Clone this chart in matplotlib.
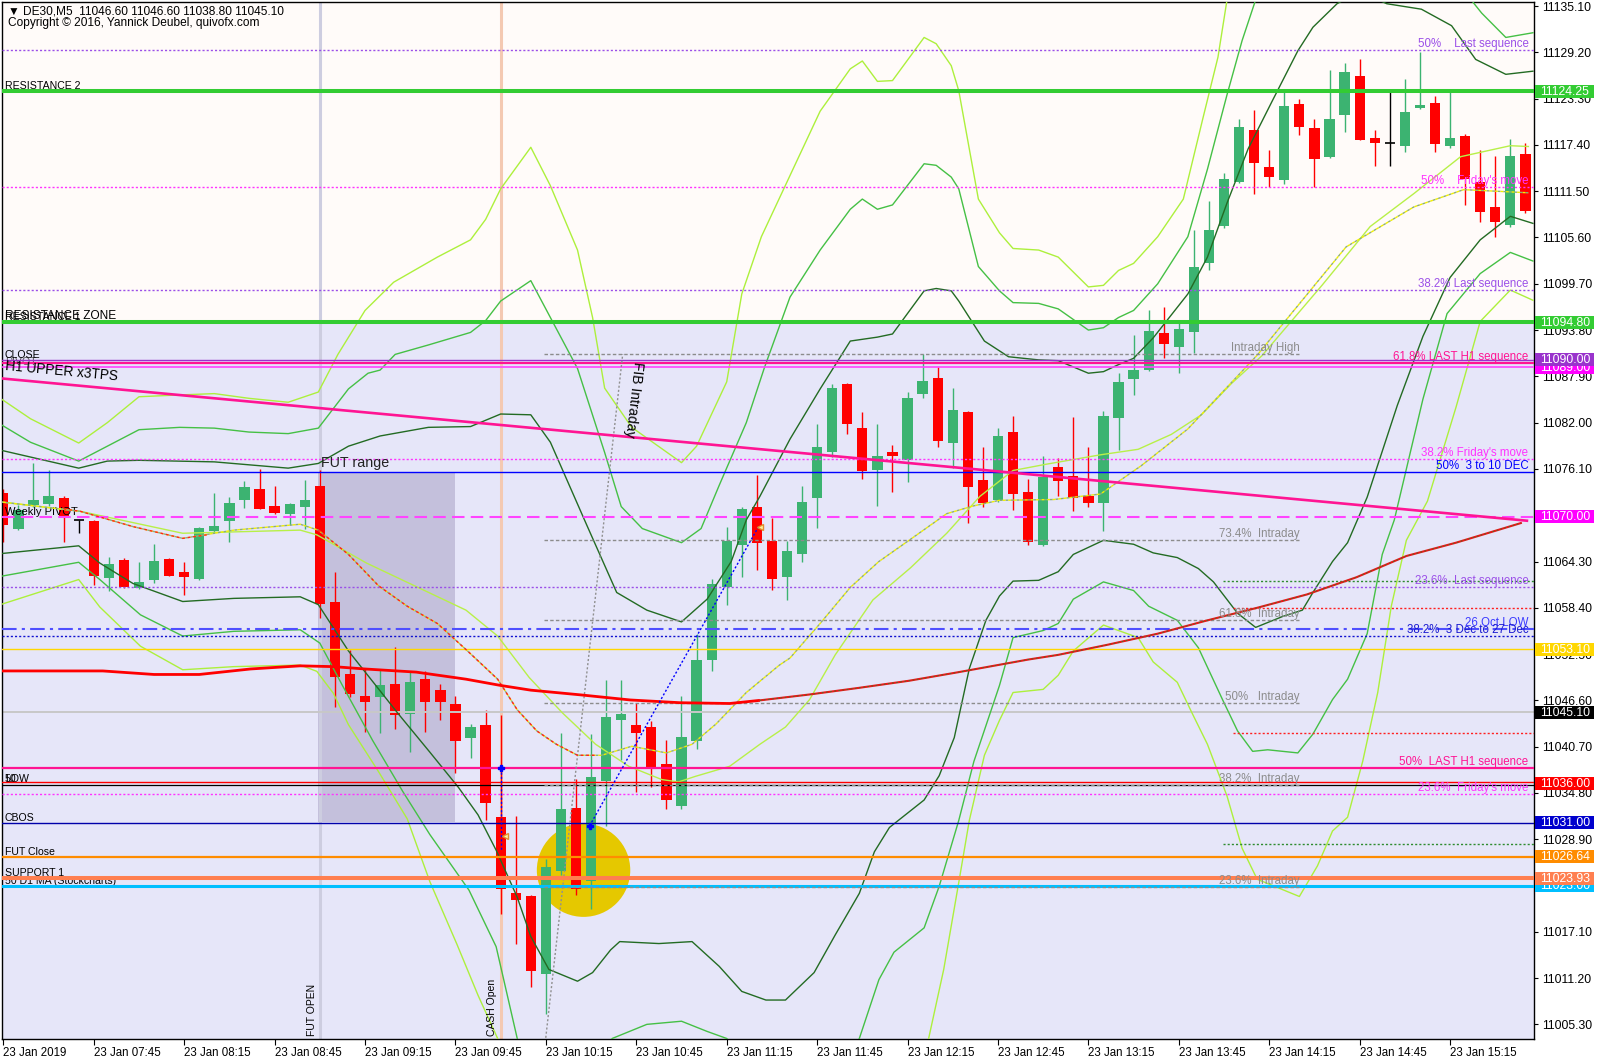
import numpy as np
import matplotlib.pyplot as plt
from matplotlib.patches import Rectangle, Ellipse
from matplotlib.transforms import blended_transform_factory

plt.rcParams['font.family'] = ['Liberation Sans', 'DejaVu Sans']

# DE30 M5 candles, 23 Jan 2019, first bar 07:15
opens = [11073.0, 11068.5, 11071.5, 11071.6, 11072.4, 11069.6, 11069.5, 11062.25, 11064.5, 11060.9,
         11061.9, 11064.6, 11062.9, 11062.1, 11068.2, 11069.5, 11072.1, 11073.5, 11071.4, 11070.4,
         11071.3, 11073.9, 11059.1, 11050.0, 11047.1, 11047.05, 11048.7, 11044.85, 11049.35, 11047.9,
         11046.1, 11041.85, 11043.5, 11031.7, 11022.0, 11021.6, 11011.7, 11024.9, 11032.9, 11023.6,
         11036.3, 11044.05, 11043.5, 11043.25, 11038.5, 11033.1, 11041.4, 11051.75, 11061.1, 11066.4,
         11071.2, 11066.96, 11062.3, 11065.3, 11072.4, 11078.2, 11086.9, 11081.3, 11076.0, 11078.3,
         11077.2, 11085.7, 11087.65, 11079.4, 11083.4, 11074.7, 11072.1, 11080.85, 11073.1, 11066.4,
         11076.4, 11075.2, 11072.7, 11071.8, 11082.6, 11087.6, 11088.7, 11093.4, 11091.7, 11093.5,
         11102.3, 11107.1, 11112.7, 11119.3, 11114.55, 11112.9, 11122.6, 11119.5, 11115.8, 11121.2,
         11126.2, 11118.3, 11117.6, 11117.2, 11122.1, 11122.8, 11117.2, 11118.6, 11112.7, 11109.5,
         11107.2, 11116.25]
highs = [11073.6, 11071.5, 11076.8, 11076.0, 11072.6, 11069.6, 11069.6, 11064.9, 11064.7, 11064.2,
         11066.5, 11064.7, 11064.2, 11068.7, 11073.0, 11072.5, 11074.5, 11076.05, 11073.9, 11071.8,
         11074.7, 11076.0, 11063.0, 11053.0, 11050.7, 11050.6, 11053.4, 11050.2, 11050.4, 11048.7,
         11047.1, 11043.6, 11045.4, 11044.7, 11031.9, 11021.8, 11026.4, 11042.5, 11036.6, 11042.3,
         11049.2, 11049.2, 11046.2, 11044.0, 11041.5, 11047.2, 11055.0, 11062.1, 11068.7, 11071.3,
         11075.3, 11069.9, 11066.9, 11073.9, 11081.8, 11086.9, 11087.0, 11083.4, 11081.8, 11079.2,
         11085.9, 11090.8, 11089.1, 11086.4, 11083.5, 11078.9, 11081.3, 11082.9, 11074.8, 11077.8,
         11077.5, 11082.7, 11078.9, 11083.5, 11088.3, 11093.2, 11096.3, 11096.7, 11094.7, 11106.6,
         11110.2, 11113.8, 11120.7, 11121.9, 11116.7, 11124.2, 11123.2, 11120.7, 11127.0, 11127.8,
         11128.3, 11119.3, 11124.2, 11125.8, 11129.3, 11123.6, 11124.3, 11118.8, 11116.8, 11116.0,
         11118.1, 11117.6]
lows = [11066.8, 11068.3, 11071.3, 11071.4, 11066.8, 11067.9, 11061.3, 11060.5, 11060.9, 11060.8,
        11061.6, 11062.4, 11060.0, 11062.0, 11067.9, 11066.8, 11071.1, 11071.0, 11070.4, 11069.0,
        11068.5, 11057.1, 11045.8, 11047.0, 11042.6, 11042.4, 11042.9, 11040.0, 11042.6, 11044.05,
        11037.4, 11039.2, 11031.3, 11019.4, 11015.5, 11010.1, 11006.6, 11024.4, 11021.8, 11020.0,
        11030.6, 11039.0, 11034.9, 11035.5, 11032.8, 11032.8, 11040.4, 11050.4, 11058.8, 11062.3,
        11063.2, 11060.7, 11059.4, 11064.2, 11068.6, 11077.6, 11080.6, 11074.8, 11071.4, 11073.1,
        11074.4, 11085.2, 11078.9, 11076.2, 11069.2, 11071.3, 11071.9, 11070.9, 11066.4, 11066.3,
        11072.6, 11070.8, 11071.3, 11068.2, 11078.5, 11085.5, 11088.6, 11090.3, 11088.3, 11090.9,
        11101.5, 11106.8, 11112.5, 11111.2, 11112.1, 11112.4, 11118.7, 11112.1, 11115.7, 11119.0,
        11118.0, 11114.7, 11114.7, 11116.5, 11122.0, 11116.5, 11117.0, 11109.75, 11107.6, 11105.7,
        11107.0, 11108.7]
closes = [11069.0, 11070.9, 11072.1, 11072.6, 11069.9, 11069.6, 11062.5, 11063.95, 11061.0, 11061.65,
          11064.4, 11062.5, 11062.3, 11068.6, 11068.8, 11071.8, 11073.85, 11071.0, 11070.5, 11071.6,
          11072.1, 11058.9, 11049.55, 11047.35, 11046.4, 11048.5, 11044.7, 11048.9, 11046.4, 11046.4,
          11041.4, 11043.2, 11033.5, 11022.5, 11021.15, 11012.1, 11025.3, 11032.8, 11022.5, 11036.8,
          11044.5, 11044.9, 11042.4, 11038.1, 11033.9, 11041.9, 11051.75, 11061.45, 11066.96, 11071.0,
          11066.6, 11062.1, 11065.7, 11071.85, 11078.9, 11086.4, 11081.8, 11075.8, 11077.8, 11077.8,
          11085.2, 11087.3, 11079.6, 11083.6, 11073.8, 11071.8, 11080.3, 11072.9, 11066.8, 11075.1,
          11074.6, 11072.4, 11071.7, 11082.9, 11087.2, 11088.7, 11093.7, 11092.0, 11093.9, 11101.9,
          11106.6, 11113.0, 11119.7, 11115.1, 11113.3, 11122.3, 11119.7, 11115.6, 11120.7, 11126.7,
          11118.0, 11117.7, 11117.6, 11121.6, 11122.5, 11117.5, 11118.3, 11113.0, 11108.8, 11107.6,
          11116.0, 11109.0]

# indicator traces (bar index, price)
inner_up_x = [-0.2, 5.0, 6.9, 9.0, 14.0, 18.9, 20.9, 22.9, 25.0, 28.2, 31.0, 33.0, 35.0, 36.3, 38.7, 40.7,
              42.7, 45.0, 46.7, 48.3, 49.3, 50.2, 52.2, 54.2, 56.2, 58.0, 59.0, 61.1, 61.9, 62.9, 63.4,
              65.1, 66.7, 68.7, 70.0, 72.0, 73.0, 74.0, 75.0, 76.3, 78.6, 79.9, 81.2, 82.6, 84.2, 85.9,
              86.9, 88.5, 90.0, 91.8, 94.1, 96.1, 97.7, 99.7, 101.5]
inner_up_y = [11078.5, 11076.2, 11077.1, 11077.2, 11077.0, 11076.2, 11076.8, 11079.0, 11080.3, 11081.4,
              11081.5, 11083.1, 11083.0, 11079.5, 11069.0, 11060.35, 11058.1, 11056.6, 11059.5, 11064.3,
              11069.6, 11072.6, 11079.9, 11086.3, 11092.4, 11092.9, 11093.3, 11098.8, 11099.1, 11098.8,
              11097.5, 11092.4, 11090.4, 11090.0, 11089.9, 11088.3, 11088.5, 11089.4, 11090.2, 11092.8,
              11098.4, 11103.1, 11110.0, 11116.9, 11123.0, 11129.4, 11132.4, 11135.4, 11137.0, 11135.4,
              11134.7, 11132.6, 11128.3, 11126.4, 11126.8]
mid_up_x = [-0.2, 1.8, 5.0, 6.9, 9.0, 11.7, 14.0, 16.3, 18.9, 20.9, 22.9, 24.2, 25.0, 26.0, 28.2, 31.0,
            32.0, 33.0, 35.0, 36.3, 38.1, 39.9, 41.0, 42.4, 45.0, 46.3, 47.5, 49.3, 50.5, 52.2, 54.2,
            56.2, 57.0, 58.0, 59.0, 61.1, 61.9, 62.9, 63.4, 64.7, 66.1, 67.0, 68.7, 70.0, 72.0, 73.0,
            74.0, 75.0, 76.6, 78.6, 79.9, 81.2, 82.2, 83.1, 90.0, 97.0, 97.6, 98.1, 99.7, 101.5]
mid_up_y = [11081.8, 11079.5, 11077.1, 11079.0, 11081.1, 11081.4, 11081.3, 11080.8, 11080.6, 11081.3,
            11086.3, 11088.3, 11088.7, 11090.7, 11091.9, 11093.5, 11095.0, 11097.5, 11100.1, 11095.4,
            11088.9, 11078.2, 11071.3, 11068.5, 11066.7, 11068.5, 11074.0, 11082.0, 11089.0, 11098.0,
            11104.0, 11109.2, 11110.5, 11109.2, 11109.75, 11115.0, 11114.8, 11113.3, 11111.8, 11101.9,
            11098.8, 11097.3, 11097.2, 11096.5, 11093.8, 11094.1, 11095.4, 11096.3, 11099.7, 11105.7,
            11114.3, 11123.8, 11130.7, 11135.9, 11145.0, 11137.0, 11135.4, 11134.2, 11131.1, 11131.7]
outer_up_x = [-0.2, 1.8, 5.0, 6.9, 9.0, 11.3, 14.0, 16.3, 18.9, 20.9, 22.2, 24.0, 25.9, 28.8, 31.0, 32.0,
              33.0, 35.0, 36.3, 38.1, 39.1, 39.9, 41.7, 45.0, 46.0, 48.0, 49.0, 50.3, 52.2, 54.2, 56.2,
              57.0, 58.0, 59.0, 61.1, 61.9, 62.9, 63.4, 64.7, 66.1, 67.0, 68.7, 70.0, 72.0, 73.0, 74.0,
              75.0, 76.6, 78.3, 79.6, 80.6, 81.2, 82.0, 90.0, 101.5]
outer_up_y = [11085.1, 11082.5, 11079.4, 11082.0, 11085.3, 11085.5, 11085.7, 11085.1, 11084.6, 11085.9,
              11090.7, 11096.3, 11099.9, 11103.1, 11105.3, 11107.9, 11111.8, 11117.1, 11112.2, 11104.0,
              11095.4, 11086.4, 11081.4, 11076.9, 11079.0, 11087.2, 11098.4, 11105.7, 11113.5, 11121.7,
              11127.1, 11128.1, 11125.5, 11125.6, 11131.1, 11130.3, 11127.5, 11124.3, 11110.5, 11106.2,
              11104.2, 11104.0, 11103.1, 11099.3, 11099.5, 11101.4, 11102.3, 11105.7, 11110.5, 11120.8,
              11128.6, 11135.9, 11142.0, 11160.0, 11150.0]
inner_lo_x = [-0.2, 5.0, 6.4, 8.6, 11.9, 15.3, 19.7, 20.9, 22.9, 26.2, 28.3, 30.2, 31.5, 32.7, 34.1, 35.0,
              36.2, 38.1, 39.1, 40.3, 40.9, 43.5, 45.7, 47.5, 49.0, 50.6, 51.9, 53.8, 55.2, 56.8, 57.8,
              58.8, 61.1, 62.1, 63.1, 64.1, 65.2, 66.1, 67.0, 68.7, 70.0, 71.0, 73.0, 75.0, 76.3, 77.9,
              79.3, 80.3, 81.9, 83.1, 84.9, 86.2, 86.9, 88.2, 89.2, 90.5, 92.5, 94.2, 96.0, 98.0, 100.0,
              101.5]
inner_lo_y = [11065.3, 11066.3, 11064.1, 11061.5, 11059.2, 11059.6, 11059.8, 11058.8, 11052.9, 11044.9,
              11040.0, 11035.5, 11032.0, 11027.5, 11021.5, 11016.5, 11012.3, 11010.8, 11011.9, 11014.8,
              11015.85, 11015.6, 11015.85, 11012.7, 11009.5, 11008.4, 11008.4, 11011.9, 11016.7, 11022.0,
              11027.3, 11030.4, 11033.9, 11037.0, 11041.85, 11050.66, 11056.8, 11059.9, 11061.8, 11061.9,
              11063.0, 11065.2, 11067.0, 11066.5, 11065.4, 11064.8, 11063.4, 11061.7, 11057.7, 11055.9,
              11057.3, 11058.1, 11060.35, 11064.3, 11066.7, 11072.5, 11084.2, 11093.0, 11100.5, 11105.3,
              11108.3, 11107.4]
mid_lo_x = [-0.2, 5.0, 6.4, 9.1, 11.9, 15.3, 19.7, 21.0, 22.5, 24.5, 26.5, 28.3, 30.9, 32.7, 34.1, 35.5,
            39.5, 40.4, 42.7, 45.0, 46.7, 48.0, 50.0, 53.0, 55.5, 56.8, 58.1, 59.1, 61.1, 62.1, 63.4,
            64.4, 66.1, 67.0, 69.0, 70.0, 71.0, 73.0, 75.0, 76.0, 77.9, 79.3, 80.9, 81.9, 82.9, 83.9,
            85.9, 86.9, 88.2, 89.2, 90.5, 91.5, 92.3, 94.2, 95.8, 98.0, 100.0, 101.5]
mid_lo_y = [11062.4, 11064.2, 11062.0, 11057.5, 11054.8, 11055.4, 11055.6, 11053.9, 11048.5, 11041.5,
            11035.0, 11029.5, 11022.4, 11015.2, 11003.5, 10997.0, 11000.0, 11003.5, 11005.3, 11005.7,
            11004.4, 11003.5, 10999.0, 10996.0, 10999.0, 11003.5, 11011.0, 11014.5, 11017.6, 11022.9,
            11031.3, 11038.8, 11048.5, 11054.6, 11055.5, 11056.4, 11059.5, 11061.7, 11060.6, 11058.6,
            11056.8, 11053.3, 11046.7, 11042.7, 11040.1, 11040.3, 11039.9, 11042.3, 11046.7, 11049.3,
            11055.1, 11065.2, 11069.6, 11085.0, 11095.9, 11101.0, 11103.7, 11102.6]
outer_lo_x = [-0.2, 5.0, 6.4, 9.1, 11.9, 15.3, 19.7, 20.8, 21.9, 22.9, 24.9, 26.8, 28.3, 30.1, 31.5, 32.8,
              34.0, 48.0, 60.0, 61.4, 62.4, 63.4, 64.1, 65.1, 66.1, 67.0, 69.0, 70.0, 71.0, 73.0, 74.0,
              75.3, 76.3, 77.9, 78.9, 79.9, 81.2, 82.2, 83.2, 86.0, 87.2, 88.2, 89.2, 90.2, 91.2, 92.1,
              93.1, 94.5, 96.4, 98.0, 100.0, 101.5]
outer_lo_y = [11058.8, 11062.0, 11058.5, 11053.5, 11050.5, 11050.9, 11051.1, 11050.3, 11047.5, 11043.5,
              11037.5, 11031.5, 11023.5, 11015.5, 11009.0, 11003.5, 10996.0, 10990.0, 10995.0, 11003.5,
              11012.3, 11023.4, 11031.3, 11039.6, 11044.05, 11047.6, 11048.0, 11049.8, 11052.9, 11056.2,
              11055.5, 11054.6, 11051.5, 11048.9, 11044.9, 11041.0, 11034.4, 11027.75, 11023.8, 11021.6,
              11025.5, 11029.95, 11031.7, 11038.8, 11047.6, 11058.6, 11067.0, 11072.0, 11084.0, 11094.9,
              11098.9, 11097.6]
fast_ma_x = [-0.2, 5.1, 8.6, 11.9, 15.3, 19.7, 20.9, 22.9, 24.9, 26.8, 28.8, 30.8, 32.8, 34.1, 35.4, 36.7,
             38.1, 39.7, 41.7, 44.0, 45.7, 47.3, 49.3, 51.5, 52.2, 54.2, 56.2, 58.1, 60.1, 62.6, 64.4,
             66.1, 69.7, 72.8, 75.5, 78.6, 83.2, 89.1, 93.6, 96.9, 98.0, 101.2]
fast_ma_y = [11071.9, 11070.7, 11068.75, 11067.25, 11068.3, 11069.05, 11068.3, 11065.2, 11061.2, 11058.6,
             11056.4, 11052.9, 11049.3, 11045.4, 11042.7, 11041.0, 11039.6, 11039.6, 11040.75, 11039.9,
             11041.0, 11043.6, 11047.6, 11051.1, 11052.0, 11056.4, 11061.0, 11064.3, 11067.0, 11070.4,
             11071.4, 11072.1, 11072.2, 11072.9, 11076.5, 11081.2, 11090.6, 11104.4, 11109.5, 11111.7,
             11111.6, 11111.3]
fast_fall_x = [4.0, 5.1, 8.6, 11.9, 13.5]
fast_fall_y = [11071.0, 11070.7, 11068.75, 11067.25, 11067.7]
fast_fall2_x = [20.9, 22.9, 24.9, 26.8, 28.8, 30.8, 32.8, 34.1, 35.4, 36.7, 38.1, 39.3]
fast_fall2_y = [11068.3, 11065.2, 11061.2, 11058.6, 11056.4, 11052.9, 11049.3, 11045.4, 11042.7, 11041.0,
                11039.6, 11039.6]
slow_ma_x = [-0.2, 5.1, 11.9, 19.7, 20.8, 24.1, 27.4, 30.7, 32.8, 34.9, 37.1, 39.3, 41.5, 43.7, 44.8, 45.9,
             48.2, 50.2, 51.9, 53.5, 55.2, 57.7, 60.2, 62.6, 64.8, 67.0, 69.2, 72.8, 75.3, 77.5, 79.5,
             81.5, 83.5, 85.5, 87.5, 90.7, 93.6, 96.7, 100.0, 101.2]
slow_ma_y = [11071.9, 11070.7, 11067.9, 11068.3, 11067.7, 11064.1, 11061.1, 11058.1, 11054.8, 11049.5,
             11045.0, 11041.0, 11038.2, 11036.5, 11036.2, 11036.9, 11038.2, 11041.0, 11043.2, 11046.7,
             11052.4, 11059.4, 11063.5, 11067.9, 11072.6, 11075.9, 11076.7, 11077.9, 11078.6, 11080.5,
             11083.0, 11087.0, 11090.5, 11095.0, 11099.5, 11107.0, 11111.2, 11115.9, 11117.3, 11117.2]
red_ma_x = [-0.2, 6.6, 10.0, 13.0, 16.4, 19.7, 21.9, 24.0, 27.4, 30.7, 33.0, 35.0, 38.3, 41.6, 44.9, 48.2,
            50.2, 53.5, 56.8, 60.1, 63.4, 68.0, 70.0, 73.3, 76.6, 79.9, 83.2, 86.5, 89.8, 93.1, 96.4,
            100.7]
red_ma_y = [11050.35, 11050.35, 11049.9, 11049.9, 11050.6, 11051.0, 11050.9, 11050.6, 11050.2, 11049.3,
            11048.5, 11047.9, 11047.3, 11046.65, 11046.3, 11046.2, 11046.6, 11047.35, 11048.2, 11049.1,
            11050.2, 11051.8, 11052.4, 11053.7, 11055.1, 11056.8, 11058.4, 11060.1, 11062.3, 11065.0,
            11066.7, 11069.2]

# drawn objects
trend_x = [-0.2, 101.1]
trend_y = [11087.65, 11069.5]
fib_x = [35.9, 41.1]
fib_y = [11002.0, 11090.75]
fut_range = [20.9, 30.0, 11031.1, 11075.7]   # from bar, to bar, low, high
fut_open_bar = 21
cash_open_bar = 33
circle = [38.5, 11024.95]

# horizontal levels
res2 = 11124.25
res1 = 11094.80
last_seq = [11129.55, 11098.85, 11061.0]
last_seq_names = ['50%    Last sequence', '38.2% Last sequence', '23.6%  Last sequence']
friday = [11112.1, 11077.4, 11034.7]
friday_names = ["50%    Friday's move", "38.2% Friday's move", "23.6%  Friday's move"]
h1_seq = [11089.6, 11038.0]
h1_names = ['61.8% LAST H1 sequence', '50%  LAST H1 sequence']
prev_close = 11090.00
pivot_pink = 11089.15
dec_50 = 11075.7
weekly_pivot = 11070.00
oct_low = 11055.7
dec_382 = 11054.75
gold_lvl = 11053.10
bid = 11045.10
low_lvl = 11036.0
cbos = 11031.00
fut_close = 11026.64
support1 = 11023.93
d1_ma = 11023.00
intraday = [11090.75, 11067.1, 11056.8, 11046.25, 11035.8, 11022.8]
intraday_names = ['Intraday High', '73.4%  Intraday', '61.8%  Intraday', '50%   Intraday',
                  '38.2%  Intraday', '23.6%  Intraday']
short_green = [11061.8, 11028.3]
short_red = [11058.4, 11042.4]

box_prices = [11124.25, 11094.80, 11089.00, 11090.00, 11070.00, 11053.10, 11045.10, 11036.00,
              11031.00, 11026.64, 11023.00, 11023.93]
box_texts = ['11124.25', '11094.80', '11089.00', '11090.00', '11070.00', '11053.10', '11045.10',
             '11036.00', '11031.00', '11026.64', '11023.00', '11023.93']

price_ticks = [11135.10, 11129.20, 11123.30, 11117.40, 11111.50, 11105.60, 11099.70, 11093.80, 11087.90,
               11082.00, 11076.10, 11070.20, 11064.30, 11058.40, 11052.50, 11046.60, 11040.70, 11034.80,
               11028.90, 11023.00, 11017.10, 11011.20, 11005.30]
time_ticks = [0, 6, 12, 18, 24, 30, 36, 42, 48, 54, 60, 66, 72, 78, 84, 90, 96]
time_labels = ['23 Jan 2019', '23 Jan 07:45', '23 Jan 08:15', '23 Jan 08:45', '23 Jan 09:15',
               '23 Jan 09:45', '23 Jan 10:15', '23 Jan 10:45', '23 Jan 11:15', '23 Jan 11:45',
               '23 Jan 12:15', '23 Jan 12:45', '23 Jan 13:15', '23 Jan 13:45', '23 Jan 14:15',
               '23 Jan 14:45', '23 Jan 15:15']

# ------------------------------------------------------------------
fig = plt.figure(figsize=(16, 10.62), dpi=100)
fig.patch.set_facecolor('white')
ax = fig.add_axes([0.00125, 0.0217, 0.9575, 0.9765])
x_lo, x_hi = -0.09, 101.57
y_lo, y_hi = 11003.44, 11135.63
ax.set_xlim(x_lo, x_hi)
ax.set_ylim(y_lo, y_hi)
ax.set_facecolor('#fffbf9')
ax.axhspan(10980, res1, color='#e6e6f9', lw=0, zorder=0)

ax.add_patch(Rectangle((fut_range[0], fut_range[2]), fut_range[1] - fut_range[0],
                       fut_range[3] - fut_range[2], fc='#c4c0dc', ec='none', zorder=0.5))
ax.axvline(fut_open_bar, color='#cdcde0', lw=2.2, zorder=0.6)
ax.axvline(cash_open_bar, color='#f4c9b2', lw=2.2, zorder=0.6)
ax.add_patch(Ellipse((circle[0], circle[1]), 6.2, 11.9, fc='#e5c800', ec='none', zorder=1.5))

# candles
o = np.array(opens); h = np.array(highs); l = np.array(lows); c = np.array(closes)
x = np.arange(len(o))
up = c > o
dn = c < o
dj = c == o
bw = 0.68
ax.vlines(x[up], l[up], h[up], color='#3cb371', lw=1.0, zorder=2)
ax.vlines(x[dn], l[dn], h[dn], color='#ff0000', lw=1.0, zorder=2)
ax.bar(x[up], np.maximum((c - o)[up], 0.35), bottom=o[up], width=bw, color='#3cb371', lw=0, zorder=2.1)
ax.bar(x[dn], np.maximum((o - c)[dn], 0.35), bottom=c[dn], width=bw, color='#ff0000', lw=0, zorder=2.1)
ax.vlines(x[dj], l[dj], h[dj], color='black', lw=1.0, zorder=2.1)
ax.hlines(c[dj], x[dj] - bw / 2, x[dj] + bw / 2, color='black', lw=1.2, zorder=2.1)

# bands and averages
ax.plot(outer_up_x, outer_up_y, color='#adf03c', lw=1.0, zorder=3)
ax.plot(outer_lo_x, outer_lo_y, color='#adf03c', lw=1.0, zorder=3)
ax.plot(mid_up_x, mid_up_y, color='#45c045', lw=1.0, zorder=3)
ax.plot(mid_lo_x, mid_lo_y, color='#45c045', lw=1.0, zorder=3)
ax.plot(inner_up_x, inner_up_y, color='#236b23', lw=1.0, zorder=3)
ax.plot(inner_lo_x, inner_lo_y, color='#236b23', lw=1.0, zorder=3)
ax.plot(slow_ma_x, slow_ma_y, color='#b8f048', lw=1.0, zorder=3)
ax.plot(fast_ma_x, fast_ma_y, color='#8fae78', lw=1.0, ls=(0, (2, 2)), zorder=3)
ax.plot(fast_ma_x, fast_ma_y, color='#f0f000', lw=1.0, ls=(2, (2, 2)), zorder=3)
ax.plot(fast_fall_x, fast_fall_y, color='#ff2020', lw=1.0, ls=(0, (2, 2)), zorder=3.1)
ax.plot(fast_fall2_x, fast_fall2_y, color='#ff2020', lw=1.0, ls=(0, (2, 2)), zorder=3.1)
ax.plot(red_ma_x[:17], red_ma_y[:17], color='#ff0000', lw=2.0, zorder=3.2, solid_capstyle='butt')
ax.plot(red_ma_x[16:], red_ma_y[16:], color='#e81818', lw=1.5, zorder=3.2)
ax.plot(red_ma_x[16:], red_ma_y[16:], color='#3a7a2a', lw=0.6, ls=(0, (2, 3)), zorder=3.3)

# horizontal levels
dot = (0, (1.5, 1.5))
dash = (0, (2.5, 1.6))
ax.axhline(res2, color='#33cc33', lw=2.9, zorder=3.5)
ax.axhline(res1, color='#33cc33', lw=2.9, zorder=3.5)
for p in last_seq:
    ax.axhline(p, color='#9b4fe8', lw=1.0, ls=dot, zorder=3)
for p in friday:
    ax.axhline(p, color='#ff33ff', lw=1.0, ls=dot, zorder=3)
ax.axhline(prev_close, color='#9933cc', lw=1.0, zorder=3)
ax.axhline(h1_seq[0], color='#ff1493', lw=1.6, zorder=3)
ax.axhline(pivot_pink, color='#ff44ff', lw=1.2, zorder=3)
ax.axhline(h1_seq[1], color='#ff1493', lw=1.6, zorder=3)
ax.axhline(dec_50, color='#0000ff', lw=1.0, zorder=3)
ax.axhline(weekly_pivot, color='#ff44ff', lw=1.5, ls=(0, (6, 3)), zorder=3)
ax.axhline(oct_low, color='#4f4fff', lw=1.5, ls=(0, (7, 2.5, 1.5, 2.5)), zorder=3)
ax.axhline(dec_382, color='#1010d0', lw=1.0, ls=dot, zorder=3)
ax.axhline(gold_lvl, color='#ffd700', lw=1.0, zorder=3)
ax.axhline(bid, color='#c8c8c8', lw=1.4, zorder=2.5)
ax.axhline(low_lvl + 0.15, color='#ff0000', lw=1.0, zorder=3)
ax.axhline(low_lvl - 0.2, color='#000000', lw=0.9, zorder=3)
ax.axhline(cbos, color='#0000aa', lw=1.0, zorder=3)
ax.axhline(fut_close, color='#ff8c00', lw=1.6, zorder=3)
ax.axhline(d1_ma, color='#00bfff', lw=2.2, zorder=3)
ax.axhline(support1, color='#ff7f50', lw=2.9, zorder=3.1)
ax.hlines(intraday, fib_x[0], 86.0, color='#8c8c8c', lw=1.0, ls=dash, zorder=3)
ax.hlines(short_green, 80.9, x_hi, color='#2e8b2e', lw=1.0, ls=dot, zorder=3)
ax.hlines(short_red, 81.6, x_hi, color='#ff2020', lw=1.0, ls=dot, zorder=3)

ax.plot(trend_x, trend_y, color='#ff1493', lw=1.9, zorder=3.4)
ax.plot(fib_x, fib_y, color='#909090', lw=1.0, ls=dot, zorder=3)
ax.plot([cash_open_bar, cash_open_bar], [h1_seq[1], 11027.5], color='#0000ff', lw=1.0, ls=dot, zorder=3.5)
ax.plot([38.9, 50.1], [11030.6, 11068.7], color='#0000ff', lw=1.0, ls=dot, zorder=3.5)
ax.plot([cash_open_bar, 38.9], [h1_seq[1], 11030.6], ls='none', marker='P', ms=5, color='#0000ff', zorder=4)
ax.plot([cash_open_bar + 0.3, 50.2], [11029.3, 11068.7], ls='none', marker='<', ms=5, mfc='#fff3a0',
        mec='#e09030', zorder=4)

# labels on the right of the chart
rx = 101.2
for p, t in zip(last_seq, last_seq_names):
    ax.annotate(t, (rx, p), ha='right', va='bottom', fontsize=8.3, color='#9b4fe8', zorder=4)
for p, t in zip(friday, friday_names):
    ax.annotate(t, (rx, p), ha='right', va='bottom', fontsize=8.3, color='#ff33ff', zorder=4)
for p, t in zip(h1_seq, h1_names):
    ax.annotate(t, (rx, p), ha='right', va='bottom', fontsize=8.3, color='#ff1493', zorder=4)
ax.annotate('50%  3 to 10 DEC', (rx, dec_50), ha='right', va='bottom', fontsize=8.3, color='#0000ff', zorder=4)
ax.annotate('26 Oct LOW', (rx, oct_low), ha='right', va='bottom', fontsize=8.3, color='#3a3aff', zorder=4)
ax.annotate('38.2%  3 Dec to 27 Dec', (rx, dec_382), ha='right', va='bottom', fontsize=8.3,
            color='#1a1ad0', zorder=4)
for p, t in zip(intraday, intraday_names):
    ax.annotate(t, (86.0, p), ha='right', va='bottom', fontsize=8.3, color='#8c8c8c', zorder=4)

# labels on the left
lx = 0.1
small = 7.6
ax.text(lx, res2, 'RESISTANCE 2', ha='left', va='bottom', fontsize=small, zorder=2.6)
ax.text(lx, res1, 'RESISTANCE ZONE', ha='left', va='bottom', fontsize=8.6, zorder=2.6)
ax.text(lx, res1, 'RESISTANCE 1', ha='left', va='bottom', fontsize=small, zorder=2.6)
ax.text(lx, prev_close, 'CLOSE', ha='left', va='bottom', fontsize=small, zorder=2.6)
ax.text(lx, pivot_pink, 'PIVOT', ha='left', va='bottom', fontsize=small, color='#555555', zorder=2.55)
ax.annotate('H1 UPPER x3TPS', (lx, trend_y[0]), xytext=(0, 4), textcoords='offset points',
            ha='left', va='bottom', fontsize=9.8, rotation=-5.3, rotation_mode='anchor', zorder=4.2)
ax.text(lx, weekly_pivot, 'Weekly PIVOT', ha='left', va='bottom', fontsize=8.0, zorder=2.6)
ax.text(lx, low_lvl, '50', ha='left', va='bottom', fontsize=small, zorder=2.6)
ax.text(lx, low_lvl, 'LOW', ha='left', va='bottom', fontsize=small, zorder=2.6)
ax.text(lx, cbos, 'CBOS', ha='left', va='bottom', fontsize=small, zorder=2.6)
ax.text(lx, fut_close, 'FUT Close', ha='left', va='bottom', fontsize=small, zorder=2.6)
ax.text(lx, support1, 'SUPPORT 1', ha='left', va='bottom', fontsize=small, zorder=2.6)
ax.text(lx, d1_ma, '50 D1 MA (Stockcharts)', ha='left', va='bottom', fontsize=small, zorder=2.6)

ax.text(fut_range[0] + 0.15, fut_range[3] + 0.2, 'FUT range', ha='left', va='bottom', fontsize=10.3,
        color='#222222', zorder=4)
ax.text(fut_open_bar - 0.55, y_lo + 0.4, 'FUT OPEN', rotation=90, ha='center', va='bottom',
        fontsize=7.5, zorder=4)
ax.text(cash_open_bar - 0.55, y_lo + 0.4, 'CASH Open', rotation=90, ha='center', va='bottom',
        fontsize=7.5, zorder=4)
ax.text(41.8, 11085.0, 'FIB Intraday', rotation=-96.5, ha='center', va='center', fontsize=10.0,
        rotation_mode='anchor', zorder=4)

ax.text(0.004, 0.991, '\u25bc DE30,M5  11046.60 11046.60 11038.80 11045.10', transform=ax.transAxes,
        ha='left', va='center', fontsize=8.6, zorder=5)
ax.text(0.004, 0.9795, 'Copyright \u00a9 2016, Yannick Deubel, quivofx.com', transform=ax.transAxes,
        ha='left', va='center', fontsize=8.6, zorder=5)

# price boxes on the right axis (drawn over the tick labels, as in the terminal)
box_colors = ['#33cc33', '#33cc33', '#ff00ff', '#9933cc', '#ff00ff', '#ffd700', '#000000', '#ff0000',
              '#0000cd', '#ff8c00', '#00bfff', '#ff7f50']
trans = blended_transform_factory(ax.transAxes, ax.transData)
for k, (p, t, col) in enumerate(zip(box_prices, box_texts, box_colors)):
    ax.add_patch(Rectangle((1.0007, p - 0.83), 0.0385, 1.66, transform=trans, fc=col, ec='none',
                           clip_on=False, zorder=10 + k * 0.01))
    ax.text(1.0037, p - 0.05, t, transform=trans, ha='left', va='center', fontsize=8.8, color='white',
            clip_on=False, zorder=10.005 + k * 0.01)

# axes
ax.yaxis.tick_right()
ax.set_yticks(price_ticks)
ax.set_yticklabels(['%.2f' % p for p in price_ticks])
ax.set_xticks(time_ticks)
ax.set_xticklabels(time_labels)
for lab in ax.get_xticklabels():
    lab.set_ha('left')
ax.tick_params(axis='y', direction='out', length=3, width=0.8, labelsize=8.8, pad=2.5)
ax.tick_params(axis='x', direction='out', length=4, width=0.8, labelsize=8.3, pad=2)
for s in ax.spines.values():
    s.set_color('black')
    s.set_linewidth(1.0)

fig.savefig('out.png', dpi=100)
